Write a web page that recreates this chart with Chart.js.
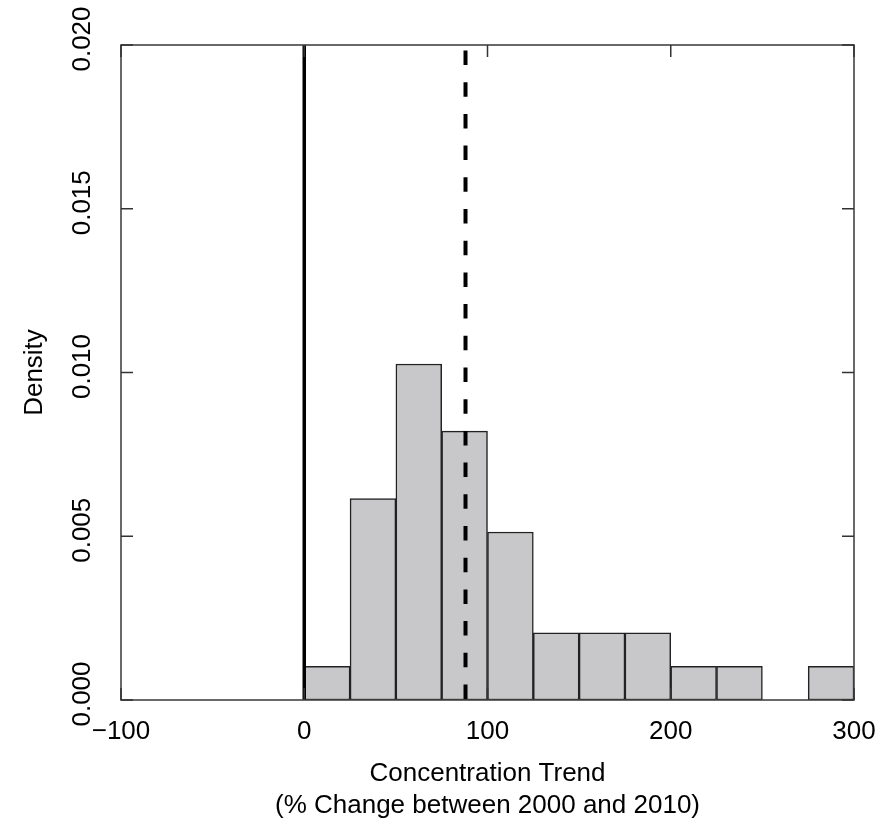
<!DOCTYPE html>
<html>
<head>
<meta charset="utf-8">
<title>Concentration Trend histogram</title>
<script src="https://cdn.jsdelivr.net/npm/chart.js@4.4.1/dist/chart.umd.min.js"></script>
<style>
    html, body { margin: 0; padding: 0; background: #fff; }
    #histChart { display: block; }
</style>
</head>
<body>
<canvas id="histChart" width="895" height="821"></canvas>
<script>
// Histogram bins (% change), 25 wide
const binStarts = [0, 25, 50, 75, 100, 125, 150, 175, 200, 225, 250, 275];
const binWidth = 25;
const densities = [0.00103, 0.00615, 0.01026, 0.00821, 0.00513, 0.00205,
                   0.00205, 0.00205, 0.00103, 0.00103, 0, 0.00103];

// Reference lines: no change, and the average trend
const zeroLine = 0;
const meanLine = 88;

const xTicks = [-100, 0, 100, 200, 300];
const yTicks = [0, 0.005, 0.010, 0.015, 0.020];

const FONT = '26px "Liberation Sans", Arial, sans-serif';

// Draws the box, inward ticks, tick labels, axis titles and vertical lines
const frame = {
    id: 'frame',
    afterDatasetsDraw(chart) {
        const ctx = chart.ctx;
        const area = chart.chartArea;
        const xs = chart.scales.x;
        const ys = chart.scales.y;

        ctx.save();

        // solid line at zero change
        const x0 = xs.getPixelForValue(zeroLine);
        ctx.strokeStyle = '#000';
        ctx.lineWidth = 3.5;
        ctx.beginPath();
        ctx.moveTo(x0, area.top);
        ctx.lineTo(x0, area.bottom);
        ctx.stroke();

        // dashed line at the mean
        const xm = xs.getPixelForValue(meanLine);
        ctx.lineWidth = 4;
        ctx.setLineDash([14.5, 17.2]);
        ctx.beginPath();
        ctx.moveTo(xm, area.top + 5.5);
        ctx.lineTo(xm, area.bottom);
        ctx.stroke();
        ctx.setLineDash([]);

        // plot box
        ctx.strokeStyle = '#444';
        ctx.lineWidth = 1.6;
        ctx.strokeRect(area.left, area.top, area.right - area.left, area.bottom - area.top);

        // inward ticks on all four sides
        const tl = 12;
        ctx.strokeStyle = '#333';
        ctx.lineWidth = 1.5;
        ctx.beginPath();
        xTicks.forEach(function (v) {
            const px = xs.getPixelForValue(v);
            ctx.moveTo(px, area.bottom); ctx.lineTo(px, area.bottom - tl);
            ctx.moveTo(px, area.top); ctx.lineTo(px, area.top + tl);
        });
        yTicks.forEach(function (v) {
            const py = ys.getPixelForValue(v);
            ctx.moveTo(area.left, py); ctx.lineTo(area.left + tl, py);
            ctx.moveTo(area.right, py); ctx.lineTo(area.right - tl, py);
        });
        ctx.stroke();

        // x tick labels
        ctx.fillStyle = '#000';
        ctx.font = FONT;
        ctx.textAlign = 'center';
        ctx.textBaseline = 'middle';
        xTicks.forEach(function (v) {
            const label = v < 0 ? '\u2212' + Math.abs(v) : String(v);
            ctx.fillText(label, xs.getPixelForValue(v), area.bottom + 32);
        });

        // y tick labels, rotated
        yTicks.forEach(function (v) {
            ctx.save();
            ctx.translate(area.left - 38, ys.getPixelForValue(v) - 6);
            ctx.rotate(-Math.PI / 2);
            ctx.fillText(v.toFixed(3), 0, 0);
            ctx.restore();
        });

        // axis titles
        const midX = (area.left + area.right) / 2;
        ctx.fillText('Concentration Trend', midX, area.bottom + 74);
        ctx.fillText('(% Change between 2000 and 2010)', midX, area.bottom + 106);

        ctx.save();
        ctx.translate(35, (area.top + area.bottom) / 2);
        ctx.rotate(-Math.PI / 2);
        ctx.fillText('Density', 0, 0);
        ctx.restore();

        ctx.restore();
    }
};

new Chart(document.getElementById('histChart'), {
    type: 'bar',
    data: {
        datasets: [{
            data: binStarts.map(function (s, i) {
                return { x: s + binWidth / 2, y: densities[i] };
            }),
            backgroundColor: '#c8c8ca',
            borderColor: '#222',
            borderWidth: 1.5,
            borderSkipped: false,
            barPercentage: 1,
            categoryPercentage: 1
        }]
    },
    options: {
        responsive: false,
        animation: false,
        layout: {
            padding: { left: 121, right: 41, top: 45, bottom: 121 }
        },
        plugins: {
            legend: { display: false },
            tooltip: { enabled: false }
        },
        scales: {
            x: {
                type: 'linear',
                min: -100,
                max: 300,
                offset: false,
                display: false
            },
            y: {
                min: 0,
                max: 0.02,
                display: false
            }
        }
    },
    plugins: [frame]
});
</script>
</body>
</html>
